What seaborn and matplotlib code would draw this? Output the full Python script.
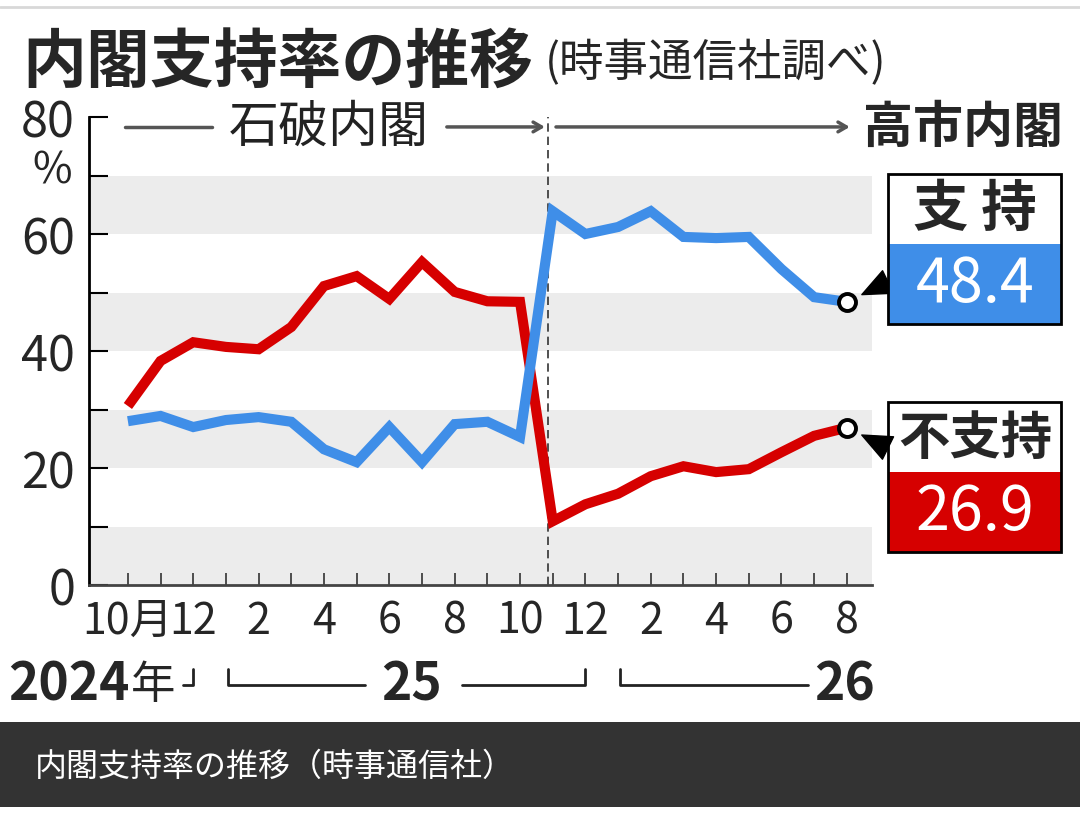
import pandas as pd
import matplotlib.pyplot as plt
import seaborn as sns
from matplotlib.patches import Rectangle
from matplotlib.lines import Line2D

# 1. Data (percent), monthly from Oct 2024 to Aug 2026
months = [10, 11, 12, 1, 2, 3, 4, 5, 6, 7, 8, 9, 10, 11, 12, 1, 2, 3, 4, 5, 6, 7, 8]
support = [28.0, 28.9, 27.0, 28.2, 28.7, 27.9, 23.2, 21.0, 27.0, 21.0, 27.5, 27.9, 25.3,
           63.9, 60.0, 61.2, 63.9, 59.5, 59.3, 59.5, 54.0, 49.2, 48.4]
oppose = [30.6, 38.3, 41.5, 40.7, 40.3, 44.1, 51.1, 52.8, 48.9, 55.2, 50.1, 48.5, 48.4,
          10.9, 13.8, 15.6, 18.6, 20.3, 19.3, 19.8, 22.7, 25.5, 26.9]
series_names = ['不支持', '支持']
cabinet_change = 12.85   # Ishiba -> Takaichi, month index
year_labels = ['2024', '25', '26']

blue = '#3f8ee8'
red = '#d60000'

idx = list(range(len(months)))
df = pd.DataFrame({
    'idx': idx + idx,
    'value': oppose + support,
    'series': [series_names[0]] * len(idx) + [series_names[1]] * len(idx),
})
xlabels = ['10月' if i == 0 else (str(m) if i % 2 == 0 else '') for i, m in enumerate(months)]

# 2. Figure
sns.set_style('white')
plt.rcParams['font.family'] = ['Noto Sans CJK JP', 'DejaVu Sans']

W, H = 1080, 828
fig = plt.figure(figsize=(W / 100, H / 100), dpi=100)


def fx(px):
    return px / W


def fy(py):
    return 1 - py / H


ax = fig.add_axes([fx(89), fy(586), fx(872) - fx(89), fy(118) - fy(586)])
ax.set_xlim(-1.19, 22.77)
ax.set_ylim(0, 80)

# grey bands
for lo in (0, 20, 40, 60):
    ax.axhspan(lo, lo + 10, color='#ececec', lw=0, zorder=0)

sns.lineplot(data=df, x='idx', y='value', hue='series', hue_order=series_names,
             palette=[red, blue], linewidth=7.3, legend=False, ax=ax, zorder=3)
for ln in ax.lines:
    ln.set_solid_joinstyle('miter')
    ln.set_solid_capstyle('butt')

sns.scatterplot(x=[idx[-1], idx[-1]], y=[support[-1], oppose[-1]], s=150,
                facecolor='white', edgecolor='black', linewidth=2.8, zorder=5, ax=ax)

ax.axvline(cabinet_change, color='#333333', lw=1.2, ls=(0, (5, 3)), zorder=2)

# axes style
for s in ('top', 'right'):
    ax.spines[s].set_visible(False)
ax.spines['left'].set_linewidth(2)
ax.spines['left'].set_color('black')
ax.spines['bottom'].set_linewidth(2)
ax.spines['bottom'].set_color('#444444')

ax.set_yticks(range(0, 81, 10))
ax.set_yticklabels(['0', '', '20', '', '40', '', '60', '', '80'])
ax.tick_params(axis='y', left=True, direction='in', length=14, width=1.5, pad=10,
               labelsize=35, color='black')
ax.set_xticks(idx)
ax.set_xticklabels(xlabels)
ax.tick_params(axis='x', bottom=True, direction='in', length=8.5, width=1.2, pad=10,
               labelsize=31, color='#333333')
ax.set_xlabel('')
ax.set_ylabel('')

fig.text(fx(52), fy(171), '%', ha='center', va='center', fontsize=31)

# cabinet header
hy = 78.3
ax.plot([-0.09, 2.57], [hy, hy], color='#555555', lw=2.5, clip_on=False)
ax.text(6.15, hy, '石破内閣', ha='center', va='center', fontsize=36,
        color='#222222', clip_on=False)
arrow = dict(arrowstyle='->,head_length=0.6,head_width=0.35', color='#555555',
             lw=2.5, shrinkA=0, shrinkB=0)
ax.annotate('', xy=(12.76, hy), xytext=(9.76, hy), arrowprops=arrow, annotation_clip=False)
ax.annotate('', xy=(22.09, hy), xytext=(13.1, hy), arrowprops=arrow, annotation_clip=False)
ax.text(25.55, hy, '高市内閣', ha='center', va='center', fontsize=36,
        fontweight='bold', clip_on=False)

# year row
tr = ax.get_xaxis_transform()


def ay(py):
    return (H - py - 242) / 468


ybase, ytop = ay(686), ay(670)
ax.text(0.06, ay(685), year_labels[0], transform=tr, ha='right', va='center',
        fontsize=37, fontweight='bold', clip_on=False)
ax.text(0.1, ay(685), '年', transform=tr, ha='left', va='center', fontsize=32,
        clip_on=False)
for xs, ys in [([1.7, 1.98, 1.98], [ybase, ybase, ytop]),
               ([3.06, 3.06, 7.25], [ytop, ybase, ybase]),
               ([10.22, 13.98, 13.98], [ybase, ybase, ytop]),
               ([15.05, 15.05, 20.8], [ytop, ybase, ybase])]:
    ax.add_line(Line2D(xs, ys, transform=tr, color='#222222', lw=2, clip_on=False))
ax.text(8.69, ay(685), year_labels[1], transform=tr, ha='center', va='center',
        fontsize=37, fontweight='bold', clip_on=False)
ax.text(21.94, ay(685), year_labels[2], transform=tr, ha='center', va='center',
        fontsize=37, fontweight='bold', clip_on=False)

# title
fig.text(fx(22), fy(63), '内閣支持率の推移', ha='left', va='center',
         fontsize=46, fontweight='bold')
fig.text(fx(545), fy(63), '(時事通信社調べ)', ha='left', va='center', fontsize=32)
fig.add_artist(Line2D([0, 1], [fy(8), fy(8)], transform=fig.transFigure,
                      color='#d8d8d8', lw=2))

# value boxes
boxes = [(series_names[1], support[-1], blue, 175, 245, 325, '支 持', 40),
         (series_names[0], oppose[-1], red, 403, 473, 553, '不支持', 37)]
for name, val, col, top, mid, bot, label, fs in boxes:
    fig.add_artist(Rectangle((fx(888), fy(bot)), fx(1061) - fx(888), fy(mid) - fy(bot),
                             transform=fig.transFigure, facecolor=col, edgecolor='none'))
    fig.add_artist(Rectangle((fx(888), fy(bot)), fx(1061) - fx(888), fy(top) - fy(bot),
                             transform=fig.transFigure, facecolor='none',
                             edgecolor='black', lw=2))
    fig.text(fx(975), fy((top + mid) / 2), label, ha='center', va='center',
             fontsize=fs, fontweight='bold')
    fig.text(fx(975), fy((mid + bot) / 2), f'{val:.1f}', ha='center', va='center',
             fontsize=44, color='white')
    ax.annotate('', xy=(idx[-1], val), xytext=(888, H - (mid + 38 if name == '支持' else mid - 24)),
                textcoords='figure pixels', annotation_clip=False,
                arrowprops=dict(arrowstyle='wedge,tail_width=0.9', fc='black', ec='black',
                                shrinkA=0, shrinkB=12, mutation_scale=20))

# caption bar
fig.add_artist(Rectangle((0, fy(808)), 1, fy(723) - fy(808), transform=fig.transFigure,
                         facecolor='#333333', edgecolor='none'))
fig.text(fx(35), fy(767), '内閣支持率の推移（時事通信社）', ha='left', va='center',
         fontsize=23, color='white')

plt.savefig('out.png', dpi=100)
